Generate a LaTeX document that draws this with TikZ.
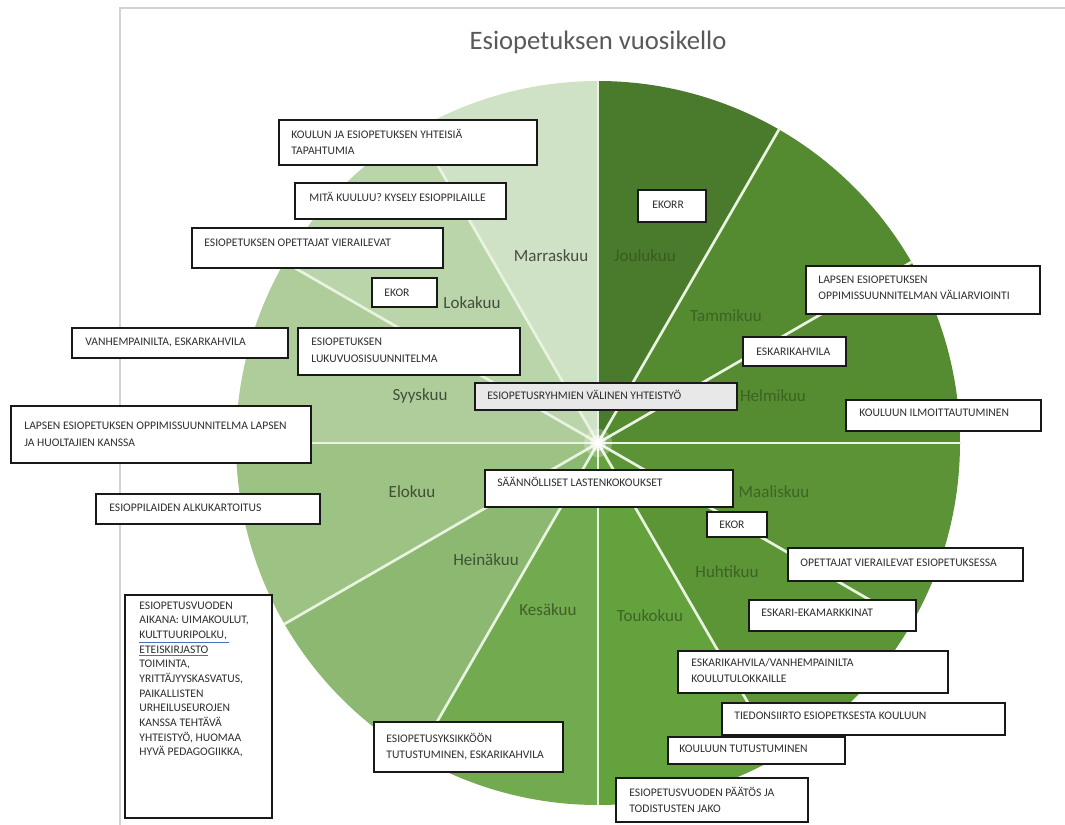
\documentclass[tikz,border=0pt]{standalone}
\usepackage{fontspec}
\setmainfont{Carlito}
\usetikzlibrary{fit,calc}
\definecolor{cJou}{HTML}{4A7A2C}
\definecolor{cTam}{HTML}{548A30}
\definecolor{cHel}{HTML}{568C31}
\definecolor{cMaa}{HTML}{5B9336}
\definecolor{cHuh}{HTML}{5C9536}
\definecolor{cTou}{HTML}{64A23E}
\definecolor{cKes}{HTML}{72AA4F}
\definecolor{cHei}{HTML}{8DB872}
\definecolor{cElo}{HTML}{9DC384}
\definecolor{cSyy}{HTML}{AECD9A}
\definecolor{cLok}{HTML}{BAD5AA}
\definecolor{cMar}{HTML}{D0E2C5}
\definecolor{sepc}{HTML}{E8F3E0}
\definecolor{frame}{HTML}{D2D2D2}
\definecolor{titlec}{HTML}{595959}
\definecolor{boxtext}{HTML}{2E2E2E}
\definecolor{ulblue}{HTML}{4A6FB5}
\newcommand\blueul[1]{\leavevmode\rlap{\textcolor{ulblue}{\underline{\phantom{#1}}}}#1}
\newcommand\lns[1]{\begin{tabular}[t]{@{}l@{}}#1\end{tabular}}
\tikzset{
  box/.style={draw=black!90, line width=1.3pt, fill=white, inner sep=0pt, rectangle},
  graybox/.style={box, fill=black!9},
  bt/.style={anchor=base west, inner sep=0pt, font=\fontsize{8.7}{12}\selectfont, text=boxtext},
  mon/.style={font=\fontsize{12.75}{14}\selectfont, inner sep=0pt},
  sep/.style={draw=sepc, line width=2pt},
}
\begin{document}
\begin{tikzpicture}[x=0.75pt,y=-0.75pt]
\useasboundingbox[fill=white] (0,0) rectangle (1065,825);
% frame
\coordinate (fTL) at (120,8);
\coordinate (fTR) at (1065,8);
\coordinate (fBL) at (120,825);
\draw[frame, line width=1.1pt] (fTR) -- (fTL) -- (fBL);
% title
\node[font=\fontsize{20}{24}\selectfont, text=titlec] (title) at (598,42) {Esiopetuksen vuosikello};
% pie
\coordinate (C) at (598,443);
\def\R{362}
\foreach \a/\c in {-90/cJou,-60/cTam,-30/cHel,0/cMaa,30/cHuh,60/cTou,90/cKes,120/cHei,150/cElo,180/cSyy,210/cLok,240/cMar}{
  \fill[\c] (C) -- ++(\a:\R) arc[start angle=\a, end angle=\a+30, radius=\R] -- cycle;
}
\foreach \a in {-90,-60,...,240}{
  \draw[sep] (C) -- ++(\a:\R);
}
\fill[white, opacity=0.25] (C) circle (14);
\fill[white, opacity=0.5] (C) circle (8);
\fill[white] (C) circle (3.5);
% month labels
\node[mon, text=cJou!75!black] (mJou) at (645,256) {Joulukuu};
\node[mon, text=cTam!72!black] (mTam) at (726,316) {Tammikuu};
\node[mon, text=cHel!70!black] (mHel) at (773,396) {Helmikuu};
\node[mon, text=cMaa!68!black] (mMaa) at (774,492) {Maaliskuu};
\node[mon, text=cHuh!66!black] (mHuh) at (727,572) {Huhtikuu};
\node[mon, text=cTou!62!black] (mTou) at (650,616) {Toukokuu};
\node[mon, text=cKes!55!black] (mKes) at (548,610) {Kesäkuu};
\node[mon, text=cHei!45!black] (mHei) at (486,560) {Heinäkuu};
\node[mon, text=cElo!40!black] (mElo) at (412,492) {Elokuu};
\node[mon, text=cSyy!38!black] (mSyy) at (420,396) {Syyskuu};
\node[mon, text=cLok!36!black] (mLok) at (472,303) {Lokakuu};
\node[mon, text=cMar!34!black] (mMar) at (551,256) {Marraskuu};
% boxes
\node[box, fit={(279,120) (537,165)}] (b1) {};
\node[bt] (t1) at ([shift={(13,19)}]b1.north west) {\lns{KOULUN JA ESIOPETUKSEN YHTEISIÄ\\TAPAHTUMIA}};
\node[box, fit={(295,183) (506,219)}] (b2) {};
\node[bt] (t2) at ([shift={(15,19)}]b2.north west) {MITÄ KUULUU? KYSELY ESIOPPILAILLE};
\node[box, fit={(192,228) (443,268)}] (b3) {};
\node[bt] (t3) at ([shift={(13,19)}]b3.north west) {ESIOPETUKSEN OPETTAJAT VIERAILEVAT};
\node[box, fit={(372,278) (437,307)}] (b4) {};
\node[bt] (t4) at ([shift={(13,19)}]b4.north west) {EKOR};
\node[box, fit={(72,328) (288,358)}] (b5) {};
\node[bt] (t5) at ([shift={(14,18)}]b5.north west) {VANHEMPAINILTA, ESKARKAHVILA};
\node[box, fit={(298,328) (520,375)}] (b6) {};
\node[bt, font=\fontsize{8.7}{12.75}\selectfont] (t6) at ([shift={(14,18)}]b6.north west) {\lns{ESIOPETUKSEN\\LUKUVUOSISUUNNITELMA}};
\node[graybox, fit={(475,383) (737,410)}] (b7) {};
\node[bt] (t7) at ([shift={(13,17)}]b7.north west) {ESIOPETUSRYHMIEN VÄLINEN YHTEISTYÖ};
\node[box, fit={(11,406) (311,463)}] (b8) {};
\node[bt, font=\fontsize{8.7}{12.75}\selectfont] (t8) at ([shift={(14,24)}]b8.north west) {\lns{LAPSEN ESIOPETUKSEN OPPIMISSUUNNITELMA LAPSEN\\JA HUOLTAJIEN KANSSA}};
\node[box, fit={(485,470) (733,507)}] (b9) {};
\node[bt] (t9) at ([shift={(13,17)}]b9.north west) {SÄÄNNÖLLISET LASTENKOKOUKSET};
\node[box, fit={(96,494) (320,524)}] (b10) {};
\node[bt] (t10) at ([shift={(14,18)}]b10.north west) {ESIOPPILAIDEN ALKUKARTOITUS};
\node[box, fit={(125,595) (272,818)}] (b11) {};
\node[bt, font=\fontsize{8.7}{11}\selectfont] (t11) at ([shift={(15,15)}]b11.north west) {\lns{ESIOPETUSVUODEN\\AIKANA: UIMAKOULUT,\\\blueul{KULTTUURIPOLKU,\,}\\\blueul{ETEISKIRJASTO}\\TOIMINTA,\\YRITTÄJYYSKASVATUS,\\PAIKALLISTEN\\URHEILUSEUROJEN\\KANSSA TEHTÄVÄ\\YHTEISTYÖ, HUOMAA\\HYVÄ PEDAGOGIIKKA,}};
\node[box, fit={(374,722) (563,772)}] (b12) {};
\node[bt] (t12) at ([shift={(13,21)}]b12.north west) {\lns{ESIOPETUSYKSIKKÖÖN\\TUTUSTUMINEN, ESKARIKAHVILA}};
\node[box, fit={(638,190) (706,222)}] (b13) {};
\node[bt] (t13) at ([shift={(15,19)}]b13.north west) {EKORR};
\node[box, fit={(806,266) (1040,314)}] (b14) {};
\node[bt] (t14) at ([shift={(13,18)}]b14.north west) {\lns{LAPSEN ESIOPETUKSEN\\OPPIMISSUUNNITELMAN VÄLIARVIOINTI}};
\node[box, fit={(743,337) (846,366)}] (b15) {};
\node[bt] (t15) at ([shift={(14,19)}]b15.north west) {ESKARIKAHVILA};
\node[box, fit={(846,400) (1041,431)}] (b16) {};
\node[bt] (t16) at ([shift={(14,17)}]b16.north west) {KOULUUN ILMOITTAUTUMINEN};
\node[box, fit={(707,512) (767,537)}] (b17) {};
\node[bt] (t17) at ([shift={(13,17)}]b17.north west) {EKOR};
\node[box, fit={(788,548) (1023,581)}] (b18) {};
\node[bt] (t18) at ([shift={(13,19)}]b18.north west) {OPETTAJAT VIERAILEVAT ESIOPETUKSESSA};
\node[box, fit={(749,600) (916,631)}] (b19) {};
\node[bt] (t19) at ([shift={(13,17)}]b19.north west) {ESKARI-EKAMARKKINAT};
\node[box, fit={(678,651) (948,693)}] (b20) {};
\node[bt] (t20) at ([shift={(14,16)}]b20.north west) {\lns{ESKARIKAHVILA/VANHEMPAINILTA\\KOULUTULOKKAILLE}};
\node[box, fit={(722,703) (1005,735)}] (b21) {};
\node[bt] (t21) at ([shift={(13,17)}]b21.north west) {TIEDONSIIRTO ESIOPETKSESTA KOULUUN};
\node[box, fit={(668,737) (845,764)}] (b22) {};
\node[bt] (t22) at ([shift={(12,16)}]b22.north west) {KOULUUN TUTUSTUMINEN};
\node[box, fit={(616,778) (808,822)}] (b23) {};
\node[bt] (t23) at ([shift={(14,19)}]b23.north west) {\lns{ESIOPETUSVUODEN PÄÄTÖS JA\\TODISTUSTEN JAKO}};
\end{tikzpicture}
\end{document}
